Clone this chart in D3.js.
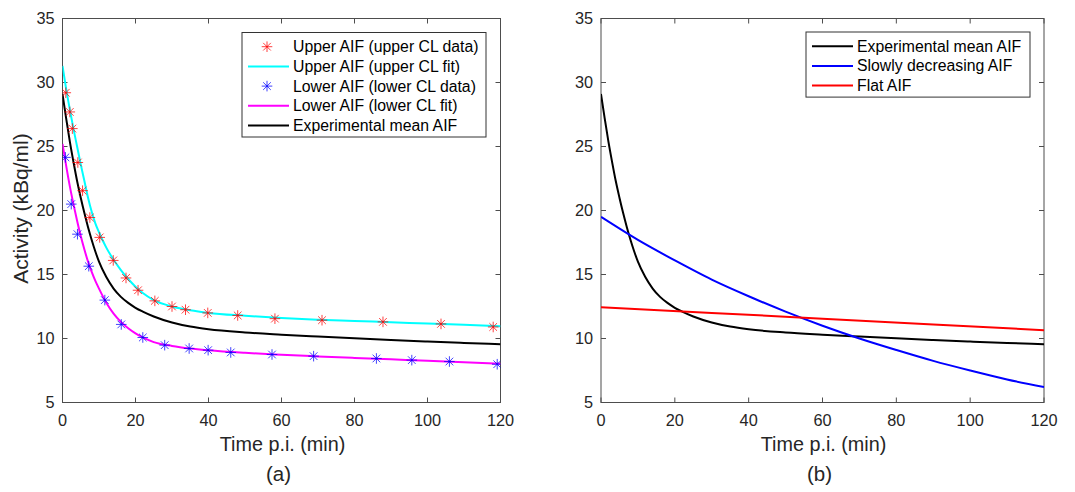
<!DOCTYPE html>
<html>
<head>
<meta charset="UTF-8">
<title>AIF curves</title>
<script src="https://d3js.org/d3.v7.min.js"></script>
<style>
  body { margin: 0; background: #fff; }
  svg { font-family: "Liberation Sans", Arial, Helvetica, sans-serif; }
  .frame line, .frame rect { stroke: #4d4d4d; }
  .tick-label { font-size: 16.3px; fill: #262626; }
  .axis-label { font-size: 19.8px; fill: #262626; }
  .legend text { font-size: 15.8px; fill: #000; }
</style>
</head>
<body>
<svg width="1075" height="492"></svg>
<script>
// tick labels
var timeTicks = [0, 20, 40, 60, 80, 100, 120];
var activityTicks = [5, 10, 15, 20, 25, 30, 35];

// (a) data points
var upperDataT = [0.9, 2.0, 2.7, 4.2, 5.5, 7.5, 10.2, 13.9, 17.4, 20.7, 25.3, 30.0, 33.7, 39.8, 48.0, 58.2, 71.1, 87.8, 103.7, 118.0];
var upperDataY = [29.2, 27.7, 26.4, 23.75, 21.55, 19.45, 17.9, 16.1, 14.73, 13.77, 12.94, 12.5, 12.25, 12.0, 11.8, 11.55, 11.43, 11.3, 11.14, 10.9];
var lowerDataT = [0.8, 2.4, 4.1, 7.2, 11.6, 16.1, 22.0, 28.0, 34.7, 39.9, 46.1, 57.4, 68.8, 86.0, 95.7, 106.0, 119.1];
var lowerDataY = [24.15, 20.5, 18.15, 15.65, 13.0, 11.1, 10.08, 9.48, 9.22, 9.09, 8.91, 8.75, 8.62, 8.44, 8.31, 8.2, 7.99];

// fitted curves, sampled at fitT
var fitT = [0, 1, 2, 3, 4, 5, 6, 7, 8, 9, 10, 12, 14, 16, 18, 20, 22, 25, 30, 35, 40, 50, 60, 70, 80, 90, 100, 110, 120];
var upperFit = [31.3, 29.5, 27.9, 26.4, 25.0, 23.6, 22.3, 21.0, 19.9, 19.0, 18.3, 17.1, 16.15, 15.35, 14.65, 14.05, 13.55, 13.0, 12.5, 12.2, 12.0, 11.78, 11.6, 11.47, 11.37, 11.27, 11.17, 11.07, 10.96];
var lowerFit = [25.2, 23.5, 21.9, 20.5, 19.2, 18.0, 16.95, 16.0, 15.2, 14.5, 13.9, 12.8, 11.95, 11.3, 10.8, 10.4, 10.08, 9.72, 9.42, 9.22, 9.08, 8.88, 8.73, 8.6, 8.48, 8.37, 8.26, 8.14, 8.02];
var meanAif = [29.1, 27.2, 25.4, 23.8, 22.3, 21.0, 19.8, 18.7, 17.7, 16.8, 16.0, 14.8, 13.9, 13.25, 12.78, 12.4, 12.1, 11.72, 11.25, 10.93, 10.72, 10.47, 10.3, 10.15, 10.01, 9.88, 9.76, 9.65, 9.55];

// (b) alternative input functions
var slowT = [0, 10, 20, 30, 40, 50, 60, 70, 80, 90, 100, 110, 120];
var slowAif = [19.5, 17.7, 16.1, 14.6, 13.3, 12.1, 11.0, 10.0, 9.1, 8.25, 7.5, 6.8, 6.2];
var flatT = [0, 60, 120];
var flatAif = [12.45, 11.55, 10.65];

var svg = d3.select("svg");

function zip(t, y) {
  return t.map(function(d, i) { return [d, y[i]]; });
}

function panel(id, left, right, top, bottom, letter, yLabel) {
  var x = d3.scaleLinear().domain([0, 120]).range([left, right]);
  var y = d3.scaleLinear().domain([5, 35]).range([bottom, top]);
  var g = svg.append("g");

  g.append("clipPath").attr("id", "clip" + id)
    .append("rect")
    .attr("x", left).attr("y", top)
    .attr("width", right - left).attr("height", bottom - top);

  var frame = g.append("g").attr("class", "frame");
  frame.append("rect")
    .attr("x", left).attr("y", top)
    .attr("width", right - left).attr("height", bottom - top)
    .attr("fill", "none").attr("stroke-width", 1);

  // inward ticks on all four sides
  var tl = 5;
  timeTicks.forEach(function(t) {
    frame.append("line").attr("x1", x(t)).attr("x2", x(t)).attr("y1", bottom).attr("y2", bottom - tl);
    frame.append("line").attr("x1", x(t)).attr("x2", x(t)).attr("y1", top).attr("y2", top + tl);
    g.append("text").attr("class", "tick-label")
      .attr("x", x(t)).attr("y", bottom + 23)
      .attr("text-anchor", "middle").text(t);
  });
  activityTicks.forEach(function(v) {
    frame.append("line").attr("x1", left).attr("x2", left + tl).attr("y1", y(v)).attr("y2", y(v));
    frame.append("line").attr("x1", right).attr("x2", right - tl).attr("y1", y(v)).attr("y2", y(v));
    g.append("text").attr("class", "tick-label")
      .attr("x", left - 8).attr("y", y(v) + 5.8)
      .attr("text-anchor", "end").text(v);
  });

  g.append("text").attr("class", "axis-label")
    .attr("x", (left + right) / 2 + 1).attr("y", bottom + 48)
    .attr("text-anchor", "middle").text("Time p.i. (min)");
  g.append("text").attr("class", "axis-label")
    .attr("x", (left + right) / 2 - 3).attr("y", bottom + 78.5)
    .attr("text-anchor", "middle").style("font-size", "20.5px").text(letter);

  if (yLabel) {
    g.append("text").attr("class", "axis-label")
      .attr("transform", "translate(28," + ((top + bottom) / 2 - 2) + ") rotate(-90)")
      .attr("text-anchor", "middle").style("font-size", "21px").text(yLabel);
  }

  var plot = g.append("g").attr("clip-path", "url(#clip" + id + ")");
  return { x: x, y: y, g: g, plot: plot };
}

function drawCurve(p, pts, color) {
  var line = d3.line()
    .x(function(d) { return p.x(d[0]); })
    .y(function(d) { return p.y(d[1]); })
    .curve(d3.curveMonotoneX);
  p.plot.append("path").datum(pts)
    .attr("d", line)
    .attr("fill", "none")
    .attr("stroke", color)
    .attr("stroke-width", 2);
}

function asterisk(sel, cx, cy, color) {
  var r = 5.3, s = r * 0.72;
  var segs = [[-r, 0, r, 0], [0, -r, 0, r], [-s, -s, s, s], [-s, s, s, -s]];
  var a = sel.append("g").attr("transform", "translate(" + cx + "," + cy + ")");
  segs.forEach(function(q) {
    a.append("line").attr("x1", q[0]).attr("y1", q[1]).attr("x2", q[2]).attr("y2", q[3])
      .attr("stroke", color).attr("stroke-width", 1).attr("stroke-opacity", 0.75);
  });
}

function drawPoints(p, pts, color) {
  pts.forEach(function(d) { asterisk(p.plot, p.x(d[0]), p.y(d[1]), color); });
}

function legend(p, x0, y0, w, items) {
  var rowH = 19.7;
  var lg = p.g.append("g").attr("class", "legend");
  lg.append("rect").attr("x", x0).attr("y", y0)
    .attr("width", w).attr("height", items.length * rowH + 6)
    .attr("fill", "#fff").attr("stroke", "#333").attr("stroke-width", 1);
  items.forEach(function(it, i) {
    var cy = y0 + 14.2 + i * rowH;
    if (it.marker) {
      asterisk(lg, x0 + 25, cy, it.color);
    } else {
      lg.append("line").attr("x1", x0 + 6).attr("x2", x0 + 47)
        .attr("y1", cy).attr("y2", cy)
        .attr("stroke", it.color).attr("stroke-width", 2);
    }
    lg.append("text").attr("x", x0 + 51).attr("y", cy + 5.5).text(it.label);
  });
}

// panel (a)
var pa = panel("a", 62.5, 500.5, 18.5, 402.5, "(a)", "Activity (kBq/ml)");
drawCurve(pa, zip(fitT, upperFit), "#00ffff");
drawCurve(pa, zip(fitT, lowerFit), "#ff00ff");
drawCurve(pa, zip(fitT, meanAif), "#000000");
drawPoints(pa, zip(upperDataT, upperDataY), "#ff0000");
drawPoints(pa, zip(lowerDataT, lowerDataY), "#0000ff");
legend(pa, 242, 32.5, 244, [
  { label: "Upper AIF (upper CL data)", color: "#ff0000", marker: true },
  { label: "Upper AIF (upper CL fit)", color: "#00ffff" },
  { label: "Lower AIF (lower CL data)", color: "#0000ff", marker: true },
  { label: "Lower AIF (lower CL fit)", color: "#ff00ff" },
  { label: "Experimental mean AIF", color: "#000000" }
]);

// panel (b)
var pb = panel("b", 601, 1044, 18.5, 402.5, "(b)", null);
drawCurve(pb, zip(fitT, meanAif), "#000000");
drawCurve(pb, zip(slowT, slowAif), "#0000ff");
drawCurve(pb, zip(flatT, flatAif), "#ff0000");
legend(pb, 806, 32, 224, [
  { label: "Experimental mean AIF", color: "#000000" },
  { label: "Slowly decreasing AIF", color: "#0000ff" },
  { label: "Flat AIF", color: "#ff0000" }
]);
</script>
</body>
</html>
